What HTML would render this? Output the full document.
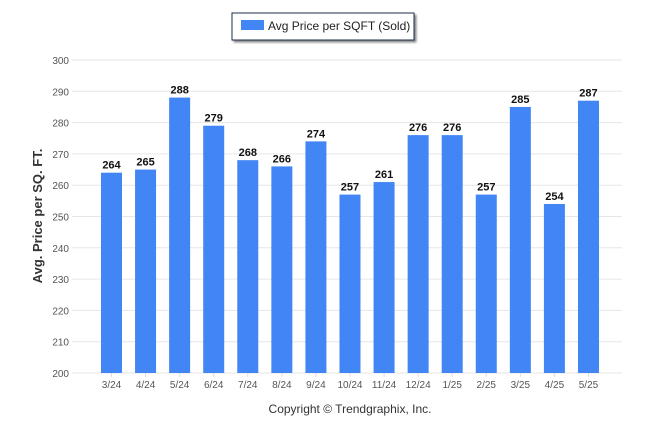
<!DOCTYPE html>
<html><head><meta charset="utf-8"><style>
body{margin:0;background:#fff;width:646px;height:434px;overflow:hidden;font-family:"Liberation Sans",sans-serif}
</style></head><body>
<svg width="646" height="434">
<rect x="232" y="13" width="182" height="27" fill="#fff" stroke="#1f2d4d" stroke-width="1" style="filter:drop-shadow(2px 2px 1px #888)"/>
<rect x="241" y="20" width="23" height="10" fill="#4285f4"/>
<text x="268" y="30" font-size="12" fill="#222">Avg Price per SQFT (Sold)</text>
<g id="grid"></g><g id="bars"></g>
<text transform="translate(42,216) rotate(-90)" text-anchor="middle" font-size="13" font-weight="bold" fill="#333">Avg. Price per SQ. FT.</text>
<text x="350" y="413" text-anchor="middle" font-size="12" fill="#333">Copyright © Trendgraphix, Inc.</text>
</svg>
<script>
const categories=["3/24","4/24","5/24","6/24","7/24","8/24","9/24","10/24","11/24","12/24","1/25","2/25","3/25","4/25","5/25"];
const values=[264,265,288,279,268,266,274,257,261,276,276,257,285,254,287];
const yTicks=[200,210,220,230,240,250,260,270,280,290,300];
const NS="http://www.w3.org/2000/svg";
const y=v=>373-(v-200)*3.13;
const x=i=>111.5+i*34.07;
const g=document.getElementById('grid'),b=document.getElementById('bars');
function mk(p,t,a){const e=document.createElementNS(NS,t);for(const k in a)e.setAttribute(k,a[k]);p.appendChild(e);return e;}
yTicks.forEach(v=>{
 const l=mk(g,'line',{x1:72,x2:622,y1:y(v),y2:y(v),stroke:'#e6e6e6'});
 
 
 const t=mk(g,'text',{x:69,y:y(v)+4,'text-anchor':'end','font-size':10,fill:'#555'});t.textContent=v;
 
 
});
categories.forEach((c,i)=>{
 const r=mk(b,'rect',{x:x(i)-10.5,y:y(values[i]),width:21,height:373-y(values[i]),fill:'#4285f4'});
 
 
 const v=mk(b,'text',{x:x(i),y:y(values[i])-4,'text-anchor':'middle','font-size':11,'font-weight':'bold',fill:'#111'});v.textContent=values[i];
 
 
 const t=mk(b,'text',{x:x(i),y:388,'text-anchor':'middle','font-size':10,fill:'#555'});t.textContent=c;
 
 
 mk(b,'line',{x1:x(i),x2:x(i),y1:373,y2:377,stroke:'#ddd'});
});
</script>
</body></html>
